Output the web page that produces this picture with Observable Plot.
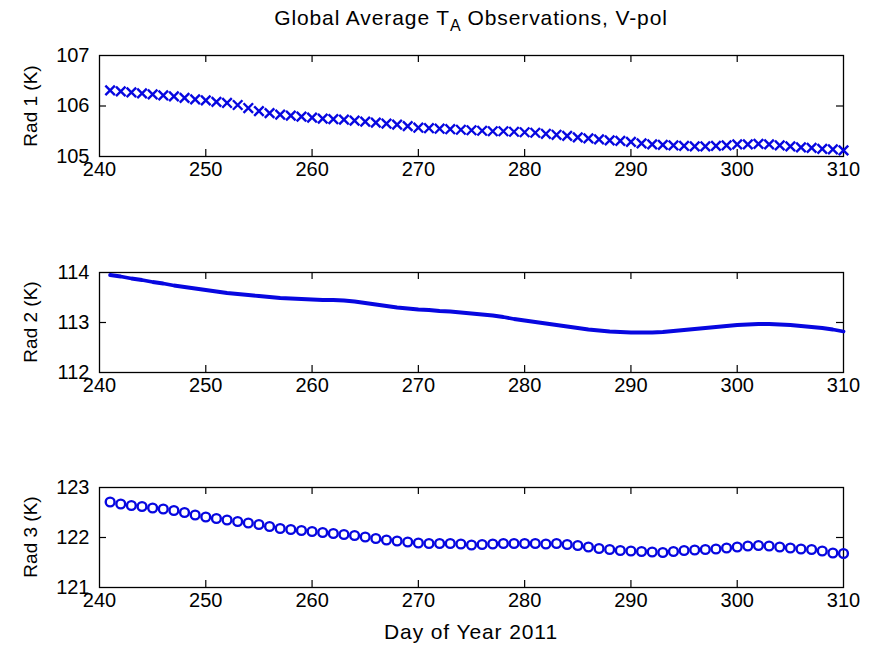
<!DOCTYPE html>
<html>
<head>
<meta charset="utf-8">
<script src="https://cdn.jsdelivr.net/npm/d3@7"></script>
<script src="https://cdn.jsdelivr.net/npm/@observablehq/plot@0.6"></script>
<style>
  body { margin: 0; background: #fff; }
  #wrap { position: relative; width: 876px; height: 650px; background: #fff; font-family: "Liberation Sans", Arial, sans-serif; color: #000; }
  .abs { position: absolute; }
  .title { left: 99px; width: 744px; top: 5px; text-align: center; font-size: 21px; letter-spacing: 0.9px; line-height: 26px; }
  .title sub { font-size: 16px; vertical-align: -6px; line-height: 0; letter-spacing: 0; }
  .xlabel { left: 99px; width: 744px; top: 619px; text-align: center; font-size: 21px; letter-spacing: 0.9px; line-height: 26px; }
  .ylabel { font-size: 19px; white-space: nowrap; transform: translate(-50%, -50%) rotate(-90deg); line-height: 20px; }
</style>
</head>
<body>
<div id="wrap">
  <div class="abs title">Global Average T<sub>A</sub> Observations, V-pol</div>
  <div class="abs xlabel">Day of Year 2011</div>
</div>
<script>
// Day of year for every sample (241 ... 310)
const days = [241,242,243,244,245,246,247,248,249,250,251,252,253,254,255,256,257,258,259,260,
  261,262,263,264,265,266,267,268,269,270,271,272,273,274,275,276,277,278,279,280,
  281,282,283,284,285,286,287,288,289,290,291,292,293,294,295,296,297,298,299,300,
  301,302,303,304,305,306,307,308,309,310];

// Rad 1 (K), x markers
const rad1 = [106.31,106.29,106.27,106.25,106.23,106.21,106.19,106.16,106.13,106.11,
  106.08,106.06,106.02,105.96,105.90,105.86,105.83,105.81,105.79,105.77,
  105.75,105.74,105.73,105.71,105.69,105.67,105.65,105.63,105.60,105.57,
  105.56,105.55,105.54,105.53,105.52,105.51,105.50,105.50,105.49,105.48,
  105.47,105.45,105.43,105.41,105.38,105.36,105.34,105.32,105.31,105.29,
  105.26,105.24,105.23,105.22,105.21,105.20,105.20,105.21,105.22,105.24,
  105.24,105.25,105.24,105.22,105.20,105.18,105.17,105.15,105.14,105.12];

// Rad 2 (K), line
const rad2 = [113.95,113.92,113.88,113.85,113.81,113.78,113.74,113.71,113.68,113.65,
  113.62,113.59,113.57,113.55,113.53,113.51,113.49,113.48,113.47,113.46,
  113.45,113.45,113.44,113.42,113.39,113.36,113.33,113.30,113.28,113.26,
  113.25,113.23,113.22,113.20,113.18,113.16,113.14,113.11,113.07,113.04,
  113.01,112.98,112.95,112.92,112.89,112.86,112.84,112.82,112.81,112.80,
  112.80,112.80,112.81,112.83,112.85,112.87,112.89,112.91,112.93,112.95,
  112.96,112.97,112.97,112.96,112.95,112.93,112.91,112.89,112.86,112.82];

// Rad 3 (K), circle markers
const rad3 = [122.71,122.67,122.64,122.62,122.59,122.57,122.54,122.50,122.45,122.41,
  122.38,122.35,122.32,122.29,122.26,122.22,122.18,122.16,122.14,122.12,
  122.10,122.08,122.06,122.04,122.01,121.98,121.95,121.93,121.91,121.89,
  121.88,121.88,121.88,121.87,121.85,121.86,121.87,121.88,121.88,121.88,
  121.88,121.87,121.88,121.86,121.84,121.81,121.78,121.76,121.74,121.73,
  121.72,121.71,121.70,121.72,121.74,121.75,121.76,121.77,121.79,121.81,
  121.83,121.84,121.83,121.81,121.79,121.77,121.76,121.73,121.69,121.68];

const xTicks = [240,250,260,270,280,290,300,310];
const yTicks1 = [105,106,107];
const yTicks2 = [112,113,114];
const yTicks3 = [121,122,123];
const yLabels = ["Rad 1 (K)", "Rad 2 (K)", "Rad 3 (K)"];

const W = 876, ML = 99, MR = 33, MT = 10, MB = 34;
const innerW = W - ML - MR;
const blue = "#0707e0";
const font = '"Liberation Sans", Arial, sans-serif';

function panel(values, yTicks, kind, innerH, top, label) {
  const data = days.map((d, i) => ({day: d, v: values[i]}));
  const tick = 7;
  const innerX = xTicks.slice(1, -1);
  const midY = [yTicks[1]];
  let dataMark;
  if (kind === "x") {
    dataMark = Plot.dot(data, {x: "day", y: "v", symbol: "times", r: 4.4, stroke: blue, strokeWidth: 2.4});
  } else if (kind === "line") {
    dataMark = Plot.line(data, {x: "day", y: "v", stroke: blue, strokeWidth: 3.8});
  } else {
    dataMark = Plot.dot(data, {x: "day", y: "v", symbol: "circle", r: 4.4, stroke: blue, strokeWidth: 2.4, fill: "none"});
  }
  const chart = Plot.plot({
    width: W, height: MT + innerH + MB,
    marginLeft: ML, marginRight: MR, marginTop: MT, marginBottom: MB,
    style: {fontFamily: font, fontSize: "20px", color: "#000", background: "transparent", overflow: "visible"},
    x: {domain: [240, 310]},
    y: {domain: [yTicks[0], yTicks[2]]},
    marks: [
      Plot.axisX({ticks: xTicks, tickSize: 0, tickPadding: 5, tickFormat: d => String(d), label: null, fontSize: 20}),
      Plot.axisY({ticks: yTicks, tickSize: 0, tickPadding: 10, tickFormat: d => String(d), label: null, fontSize: 20}),
      Plot.ruleX(innerX, {x: d => d, insetTop: innerH - tick, stroke: "#000", strokeWidth: 1.2}),
      Plot.ruleX(innerX, {x: d => d, insetBottom: innerH - tick, stroke: "#000", strokeWidth: 1.2}),
      Plot.ruleY(midY, {y: d => d, insetRight: innerW - tick, stroke: "#000", strokeWidth: 1.2}),
      Plot.ruleY(midY, {y: d => d, insetLeft: innerW - tick, stroke: "#000", strokeWidth: 1.2}),
      Plot.frame({stroke: "#000", strokeWidth: 1.3}),
      dataMark
    ]
  });
  chart.style.position = "absolute";
  chart.style.left = "0px";
  chart.style.top = (top - MT) + "px";
  document.getElementById("wrap").appendChild(chart);
  const yl = document.createElement("div");
  yl.className = "abs ylabel";
  yl.textContent = label;
  yl.style.left = "31px";
  yl.style.top = (top + innerH / 2) + "px";
  document.getElementById("wrap").appendChild(yl);
}

panel(rad1, yTicks1, "x", 101, 55, yLabels[0]);
panel(rad2, yTicks2, "line", 100, 272, yLabels[1]);
panel(rad3, yTicks3, "o", 100, 487, yLabels[2]);
</script>
</body>
</html>
